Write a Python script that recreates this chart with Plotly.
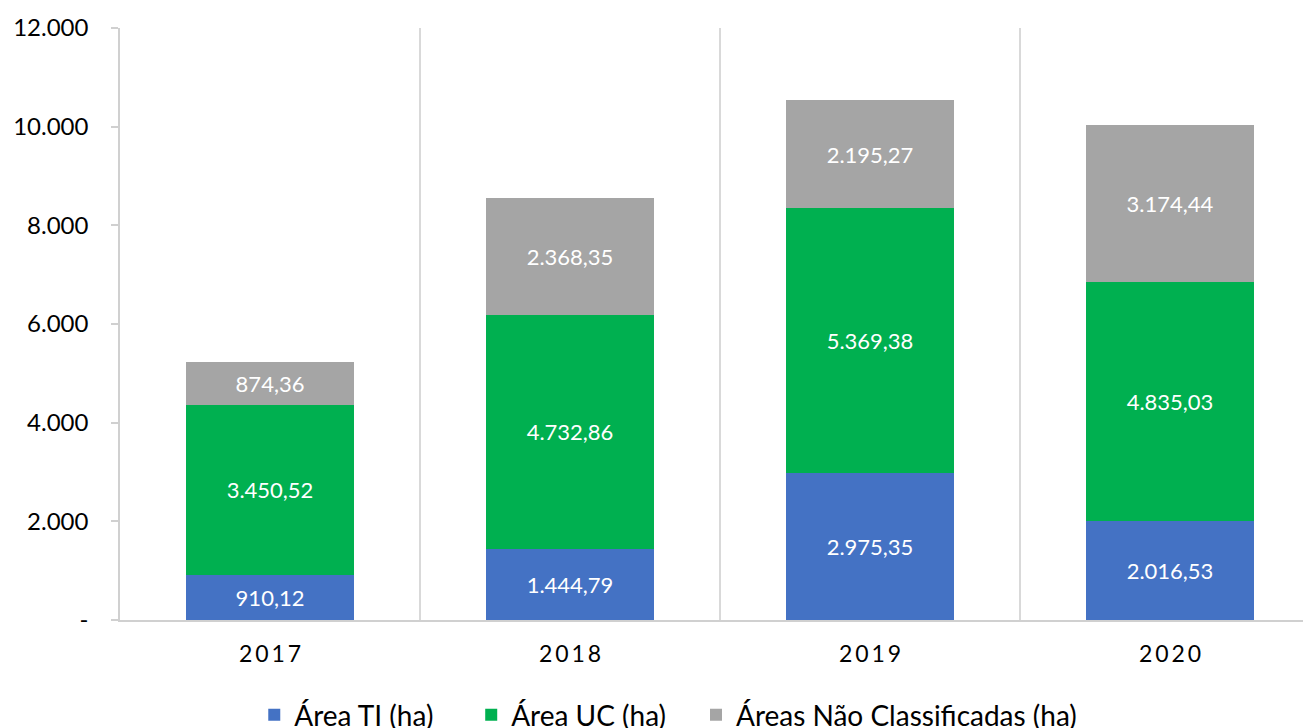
import plotly.graph_objects as go

years = ["2017", "2018", "2019", "2020"]
area_ti = [910.12, 1444.79, 2975.35, 2016.53]
area_uc = [3450.52, 4732.86, 5369.38, 4835.03]
area_nc = [874.36, 2368.35, 2195.27, 3174.44]
series_names = ["Área TI (ha)", "Área UC (ha)", "Áreas Não Classificadas (ha)"]
colors = ["#4472C4", "#00B050", "#A5A5A5"]
y_ticks = [0, 2000, 4000, 6000, 8000, 10000, 12000]
y_ticktext = ["-", "2.000", "4.000", "6.000", "8.000", "10.000", "12.000"]

FONT = "Lato, 'Open Sans', sans-serif"
xpos = list(range(len(years)))
x_ticktext = ["\u2009".join(y) for y in years]
legend_ids = ["legend", "legend2", "legend3"]
legend_x = [0.189, 0.3555, 0.528]

fig = go.Figure()
for name, vals, col, lid in zip(series_names, [area_ti, area_uc, area_nc], colors, legend_ids):
    fig.add_trace(go.Bar(
        x=xpos, y=vals, name=name, marker=dict(color=col, line=dict(width=0)),
        width=0.56, texttemplate="%{y:,.2f}", textposition="inside",
        insidetextanchor="middle", textangle=0, legend=lid,
        textfont=dict(color="white", size=22, family=FONT),
    ))

legend_common = dict(orientation="h", xref="container", yref="container",
                     xanchor="left", y=0.018, yanchor="middle",
                     font=dict(size=28, family=FONT), itemwidth=30,
                     itemsizing="constant", bgcolor="rgba(0,0,0,0)")

fig.update_layout(
    barmode="stack",
    width=1303, height=720,
    margin=dict(l=112, r=0, t=20, b=108, autoexpand=False),
    paper_bgcolor="white", plot_bgcolor="white",
    separators=",.",
    uniformtext=dict(minsize=20, mode="show"),
    font=dict(family=FONT, color="#000000"),
    showlegend=True,
    legend=dict(x=legend_x[0], **legend_common),
    legend2=dict(x=legend_x[1], **legend_common),
    legend3=dict(x=legend_x[2], **legend_common),
)
fig.update_xaxes(
    range=[-0.5, 3.47], tickvals=xpos, ticktext=x_ticktext,
    tickfont=dict(size=23, family=FONT), showgrid=False, automargin=False,
    showline=True, linecolor="#D0D0D0", linewidth=1.5, ticks="",
    zeroline=False, ticklabelstandoff=13,
    minor=dict(tickvals=[0.5, 1.5, 2.5], showgrid=True, gridcolor="#D9D9D9", gridwidth=1.5),
)
fig.update_yaxes(
    range=[0, 12000], tickvals=y_ticks, ticktext=y_ticktext, automargin=False,
    tickfont=dict(size=24, family=FONT), showgrid=False, zeroline=False,
    showline=True, linecolor="#D0D0D0", linewidth=1.5,
    ticks="outside", ticklen=7, tickcolor="#D0D0D0", tickwidth=1.5,
    ticklabelstandoff=18,
)
fig.write_html("out.html")
